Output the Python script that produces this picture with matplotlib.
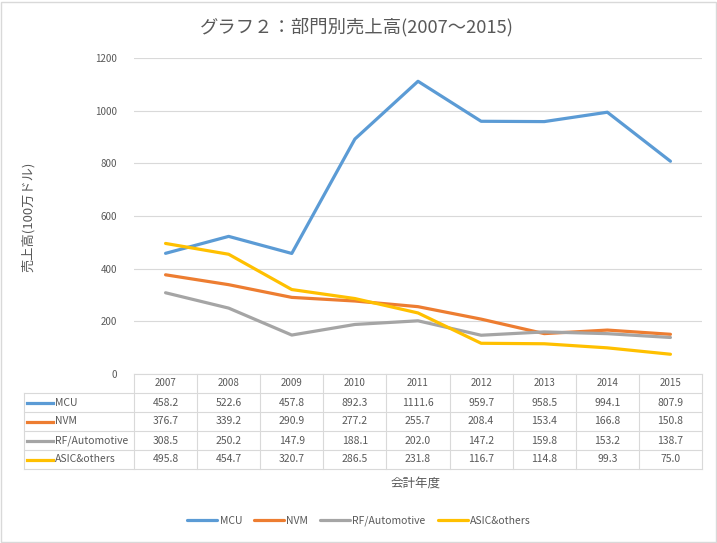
import matplotlib.pyplot as plt
from matplotlib.patches import Rectangle

plt.rcParams['font.family'] = ['Noto Sans CJK JP', 'DejaVu Sans']

years = ['2007', '2008', '2009', '2010', '2011', '2012', '2013', '2014', '2015']
series_names = ['MCU', 'NVM', 'RF/Automotive', 'ASIC&others']
mcu = [458.2, 522.6, 457.8, 892.3, 1111.6, 959.7, 958.5, 994.1, 807.9]
nvm = [376.7, 339.2, 290.9, 277.2, 255.7, 208.4, 153.4, 166.8, 150.8]
rf_auto = [308.5, 250.2, 147.9, 188.1, 202.0, 147.2, 159.8, 153.2, 138.7]
asic = [495.8, 454.7, 320.7, 286.5, 231.8, 116.7, 114.8, 99.3, 75.0]
colors = ['#5B9BD5', '#ED7D31', '#A5A5A5', '#FFC000']

text_color = '#595959'
grid_color = '#D9D9D9'
W, H = 717, 543

fig = plt.figure(figsize=(W / 100, H / 100), dpi=100)
fig.patches.append(Rectangle((0.002, 0.002), 0.996, 0.995, transform=fig.transFigure,
                             fill=False, edgecolor='#D9D9D9', lw=1))

# plot area
left, right, top, bottom = 134, 702, 58, 374
ax = fig.add_axes([left / W, 1 - bottom / H, (right - left) / W, (bottom - top) / H])
x = range(len(years))
all_series = [mcu, nvm, rf_auto, asic]
for name, vals, c in zip(series_names, all_series, colors):
    ax.plot(x, vals, color=c, lw=2.3, label=name, solid_capstyle='round')
ax.set_xlim(-0.5, len(years) - 0.5)
ax.set_ylim(0, 1200)
ax.set_yticks(range(0, 1201, 200))
ax.set_xticks([])
ax.grid(axis='y', color=grid_color, lw=0.8)
ax.set_axisbelow(True)
for s in ['top', 'right', 'left']:
    ax.spines[s].set_visible(False)
ax.spines['bottom'].set_color(grid_color)
ax.tick_params(axis='y', length=0, pad=12, labelsize=7, labelcolor=text_color)

fig.text(357 / W, 1 - 27 / H, 'グラフ２：部門別売上高(2007～2015)', ha='center', va='center',
         fontsize=13.2, color=text_color)
fig.text(28 / W, 1 - 217 / H, '売上高(100万ドル)', ha='center', va='center', rotation=90,
         fontsize=9.5, color=text_color)

# data table
tb_top, tb_bottom = 374, 469
tab = fig.add_axes([left / W, 1 - tb_bottom / H, (right - left) / W, (tb_bottom - tb_top) / H])
tab.set_xlim(-0.5, len(years) - 0.5)
tab.set_ylim(len(series_names) + 0.5, -0.5)
tab.axis('off')
col_w = (right - left) / len(years)
label_left = -0.5 - (left - 24) / col_w

for i, yr in enumerate(years):
    tab.text(i, 0, yr, ha='center', va='center', fontsize=7, color=text_color)
    for r, vals in enumerate(all_series):
        tab.text(i, r + 1, f'{vals[i]:.1f}', ha='center', va='center', fontsize=7.5, color=text_color)
for k in range(len(years) + 1):
    tab.plot([k - 0.5, k - 0.5], [-0.5, len(series_names) + 0.5], color=grid_color, lw=0.8, clip_on=False)
tab.plot([label_left, label_left], [0.5, len(series_names) + 0.5], color=grid_color, lw=0.8, clip_on=False)
for r in range(len(series_names) + 1):
    tab.plot([label_left, len(years) - 0.5], [r + 0.5, r + 0.5], color=grid_color, lw=0.8, clip_on=False)
for r, (name, c) in enumerate(zip(series_names, colors)):
    tab.plot([label_left + 0.05, label_left + 0.46], [r + 1, r + 1], color=c, lw=2.3, clip_on=False)
    tab.text(label_left + 0.49, r + 1, name, ha='left', va='center', fontsize=7.5, color=text_color)

fig.text(416 / W, 1 - 483 / H, '会計年度', ha='center', va='center', fontsize=9, color=text_color)

handles, labels = ax.get_legend_handles_labels()
fig.legend(handles, labels, loc='center', bbox_to_anchor=(359 / W, 1 - 521 / H), ncol=4,
           frameon=False, fontsize=7.5, labelcolor=text_color, handlelength=2.9,
           handletextpad=0.2, columnspacing=1.15)

fig.savefig('out.png', dpi=100)
